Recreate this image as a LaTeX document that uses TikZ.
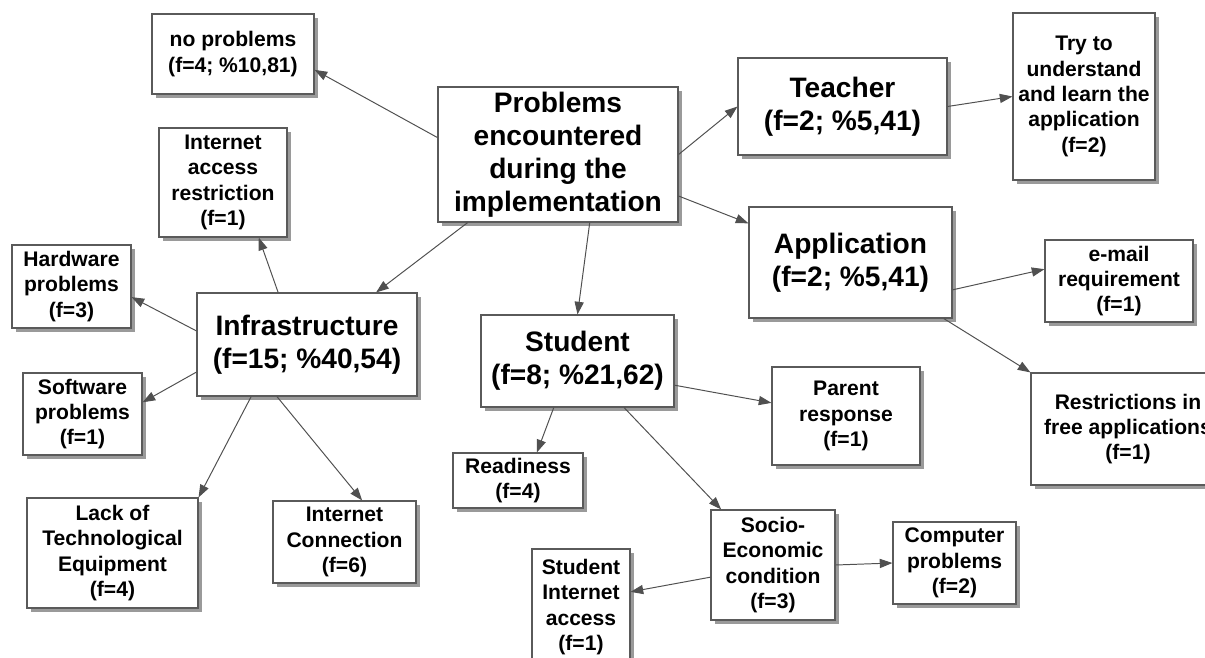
\documentclass[tikz,border=0pt]{standalone}
\usepackage{fontspec}
\setmainfont{Liberation Sans}
\usetikzlibrary{arrows.meta,shadows}
\definecolor{boxline}{HTML}{5A5A5A}
\definecolor{arrowgray}{HTML}{505050}
\definecolor{shadowgray}{HTML}{9A9A9A}
\tikzset{
  centered/.style = { align=center, anchor=center },
       box/.style = { centered, draw=boxline, line width=0.8pt, fill=white, inner sep=0pt,
                      drop shadow={shadow xshift=2.8pt, shadow yshift=-2.8pt, fill=shadowgray, opacity=1} },
       big/.style = { box, font=\fontsize{20}{23.5}\selectfont\bfseries },
     small/.style = { box, font=\fontsize{15}{18}\selectfont\bfseries },
      dims/.style 2 args = { minimum width=#1*0.025cm, minimum height=#2*0.025cm },
     arrow/.style = { draw=arrowgray, line width=0.7pt, -{Triangle[length=9pt,width=6.5pt]} }
}

\begin{document}
\begin{tikzpicture}[x=0.025cm, y=-0.025cm]
  \clip (0,0) rectangle (1205,658);

  % centre and first level
  \node [big, dims={240}{135}] (ctr) at (558,154.5)
    {Problems\\ encountered\\ during the\\ implementation};
  \node [small, dims={162}{80}] (noprob) at (233,54) {no problems\\ (f=4; \%10,81)};
  \node [big, dims={209}{97}] (teacher) at (842.5,106.5) {Teacher\\ (f=2; \%5,41)};
  \node [big, dims={203}{111}] (app) at (850.5,262.5) {Application\\ (f=2; \%5,41)};
  \node [big, dims={220}{103}] (infra) at (307,344.5) {Infrastructure\\ (f=15; \%40,54)};
  \node [big, dims={193}{92}] (student) at (577.5,361) {Student\\ (f=8; \%21,62)};

  % teacher and application
  \node [small, dims={142}{167}] (try) at (1084,96.5)
    {Try to\\ understand\\ and learn the\\ application\\ (f=2)};
  \node [small, dims={148}{82}] (email) at (1119,281) {e-mail\\ requirement\\ (f=1)};
  \node [small, dims={194}{112}] (restrict) at (1128,429)
    {Restrictions in\\ free applications\\ (f=1)};

  % infrastructure
  \node [small, dims={128}{109}] (intaccess) at (223,182.5)
    {Internet\\ access\\ restriction\\ (f=1)};
  \node [small, dims={119}{83}] (hardware) at (71.5,286.5) {Hardware\\ problems\\ (f=3)};
  \node [small, dims={119}{82}] (software) at (82.5,414) {Software\\ problems\\ (f=1)};
  \node [small, dims={171}{110}] (lack) at (112.5,553)
    {Lack of\\ Technological\\ Equipment\\ (f=4)};
  \node [small, dims={143}{82}] (intconn) at (344.5,542) {Internet\\ Connection\\ (f=6)};

  % student
  \node [small, dims={130}{55}] (readiness) at (518,480.5) {Readiness\\ (f=4)};
  \node [small, dims={148}{98}] (parent) at (846,416) {Parent\\ response\\ (f=1)};
  \node [small, dims={124}{110}] (socio) at (773,565)
    {Socio-\\ Economic\\ condition\\ (f=3)};
  \node [small, dims={123}{82}] (computer) at (954.5,563) {Computer\\ problems\\ (f=2)};
  \node [small, dims={98}{116}] (studnet) at (581,607)
    {Student\\ Internet\\ access\\ (f=1)};

  \draw [arrow] (ctr.172) -- (noprob.-11);
  \draw [arrow] (ctr.east) -- (teacher.west);
  \draw [arrow] (ctr.-19.5) -- (app.159);
  \draw [arrow] (ctr.-143.4) -- (infra.37);
  \draw [arrow] (ctr.-65.3) -- (student.north);

  \draw [arrow] (teacher.east) -- (try.west);
  \draw [arrow] (app.-15) -- (email.171.5);
  \draw [arrow] (app.-31) -- (restrict.north west);

  \draw [arrow] (infra.119.4) -- (intaccess.-57.8);
  \draw [arrow] (infra.173.5) -- (hardware.-10.6);
  \draw [arrow] (infra.194) -- (software.11.2);
  \draw [arrow] (infra.223.1) -- (lack.north east);
  \draw [arrow] (infra.240.6) -- (intconn.67.9);

  \draw [arrow] (student.-117.5) -- (readiness.56.3);
  \draw [arrow] (student.-14.4) -- (parent.170);
  \draw [arrow] (student.-45.3) -- (socio.133);
  \draw [arrow] (socio.191.8) -- (studnet.17);
  \draw [arrow] (socio.east) -- (computer.west);
\end{tikzpicture}
\end{document}
